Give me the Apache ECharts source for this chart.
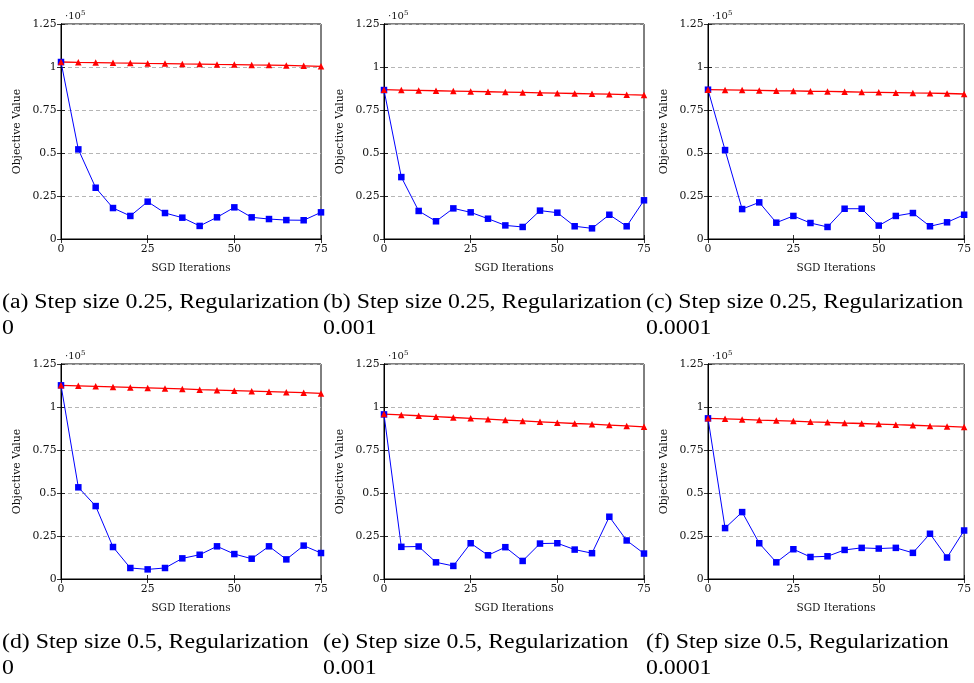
<!DOCTYPE html>
<html>
<head>
<meta charset="utf-8">
<script src="https://cdn.jsdelivr.net/npm/echarts@6/dist/echarts.min.js"></script>
<style>
html,body{margin:0;padding:0;background:#fff;}
#chart{width:974px;height:683px;}
</style>
</head>
<body>
<div id="chart"></div>
<script>
// SGD iterations (x values)
const iterations = [0, 5, 10, 15, 20, 25, 30, 35, 40, 45, 50, 55, 60, 65, 70, 75];
// Objective values in units of 1e5
// (blue squares series)
const blueA = [1.029, 0.521, 0.298, 0.180, 0.134, 0.217, 0.151, 0.124, 0.076, 0.126, 0.184, 0.126, 0.116, 0.110, 0.109, 0.155];
const blueB = [0.866, 0.360, 0.163, 0.103, 0.178, 0.155, 0.118, 0.079, 0.070, 0.165, 0.153, 0.074, 0.062, 0.141, 0.074, 0.225];
const blueC = [0.868, 0.517, 0.174, 0.213, 0.095, 0.134, 0.093, 0.070, 0.176, 0.176, 0.078, 0.134, 0.151, 0.074, 0.097, 0.141];
const blueD = [1.126, 0.533, 0.424, 0.186, 0.064, 0.056, 0.064, 0.120, 0.141, 0.190, 0.145, 0.118, 0.190, 0.114, 0.194, 0.151];
const blueE = [0.957, 0.187, 0.189, 0.097, 0.076, 0.208, 0.138, 0.185, 0.105, 0.206, 0.208, 0.171, 0.150, 0.362, 0.224, 0.148];
const blueF = [0.934, 0.296, 0.389, 0.208, 0.097, 0.173, 0.128, 0.132, 0.169, 0.181, 0.177, 0.181, 0.152, 0.263, 0.125, 0.282];
// (red triangles series)
const redA = [1.029, 1.027, 1.026, 1.024, 1.023, 1.021, 1.020, 1.018, 1.017, 1.015, 1.014, 1.012, 1.011, 1.009, 1.007, 1.004];
const redB = [0.868, 0.866, 0.864, 0.862, 0.860, 0.858, 0.856, 0.854, 0.852, 0.850, 0.848, 0.846, 0.844, 0.842, 0.839, 0.837];
const redC = [0.868, 0.867, 0.866, 0.864, 0.862, 0.861, 0.859, 0.858, 0.856, 0.854, 0.853, 0.851, 0.849, 0.848, 0.846, 0.843];
const redD = [1.126, 1.123, 1.120, 1.117, 1.114, 1.111, 1.108, 1.105, 1.101, 1.098, 1.095, 1.092, 1.089, 1.086, 1.083, 1.079];
const redE = [0.959, 0.954, 0.949, 0.944, 0.939, 0.934, 0.929, 0.924, 0.919, 0.914, 0.909, 0.904, 0.900, 0.895, 0.890, 0.885];
const redF = [0.934, 0.931, 0.928, 0.924, 0.921, 0.918, 0.914, 0.911, 0.907, 0.904, 0.901, 0.897, 0.894, 0.890, 0.887, 0.883];

const captions = [
  '(a) Step size 0.25, Regularization\n0',
  '(b) Step size 0.25, Regularization\n0.001',
  '(c) Step size 0.25, Regularization\n0.0001',
  '(d) Step size 0.5, Regularization\n0',
  '(e) Step size 0.5, Regularization\n0.001',
  '(f) Step size 0.5, Regularization\n0.0001'
];
const yTicks = [0, 0.25, 0.5, 0.75, 1, 1.25];
const xTicks = [0, 25, 50, 75];
const xLabel = 'SGD Iterations';
const yLabel = 'Objective Value';

const blues = [blueA, blueB, blueC, blueD, blueE, blueF];
const reds = [redA, redB, redC, redD, redE, redF];

// layout
const lefts = [61, 384, 708];
const widths = [260, 260, 259];
const tops = [24, 364];
const plotH = 215;
const capLeft = [2, 323, 646];
const capTop = [290, 630];

const serif = 'DejaVu Serif';
const grids = [], xAxes = [], yAxes = [], series = [], graphics = [];

for (let g = 0; g < 6; g++) {
  const col = g % 3, row = Math.floor(g / 3);
  grids.push({left: lefts[col], top: tops[row], width: widths[col], height: plotH,
    show: true, borderColor: '#000', borderWidth: 1, backgroundColor: 'transparent'});
  const tickStyle = {show: true, inside: true, length: 4, lineStyle: {color: '#000', width: 0.8}};
  xAxes.push({
    type: 'value', gridIndex: g, min: 0, max: 75, interval: 25, position: 'bottom',
    axisLine: {show: true, lineStyle: {color: '#000', width: 1}},
    axisTick: tickStyle,
    axisLabel: {color: '#111', fontFamily: serif, fontSize: 10.8, margin: 5,
      formatter: v => xTicks.includes(v) ? String(v) : ''},
    splitLine: {show: false},
    name: xLabel, nameLocation: 'middle', nameGap: 24,
    nameTextStyle: {color: '#111', fontFamily: serif, fontSize: 10.5}
  });
  xAxes.push({
    type: 'value', gridIndex: g, min: 0, max: 75, interval: 25, position: 'top',
    axisLine: {show: true, lineStyle: {color: '#000', width: 1}},
    axisTick: tickStyle, axisLabel: {show: false}, splitLine: {show: false}
  });
  yAxes.push({
    type: 'value', gridIndex: g, min: 0, max: 1.25, interval: 0.25, position: 'left',
    axisLine: {show: true, lineStyle: {color: '#000', width: 1}},
    axisTick: tickStyle,
    axisLabel: {color: '#111', fontFamily: serif, fontSize: 10.8, margin: 4.5,
      formatter: v => String(yTicks.find(t => Math.abs(t - v) < 1e-9) ?? '')},
    splitLine: {show: true, lineStyle: {color: '#b5b5b5', type: [4, 3], width: 1}},
    name: '{a|·10}{b|5}', nameLocation: 'end', nameGap: 4.5,
    nameTextStyle: {align: 'left', padding: [0, 0, 0, 4],
      rich: {a: {fontFamily: serif, fontSize: 10, color: '#111', lineHeight: 10, padding: [4, 0, 0, 0]},
             b: {fontFamily: serif, fontSize: 7, color: '#111', verticalAlign: 'top', lineHeight: 7}}}
  });
  yAxes.push({
    type: 'value', gridIndex: g, min: 0, max: 1.25, interval: 0.25, position: 'right',
    axisLine: {show: true, lineStyle: {color: '#000', width: 1}},
    axisTick: tickStyle, axisLabel: {show: false}, splitLine: {show: false}
  });
  graphics.push({
    type: 'text', x: lefts[col] - 44, y: tops[row] + plotH / 2, rotation: Math.PI / 2,
    style: {text: yLabel, font: '10.8px "DejaVu Serif"', fill: '#111', align: 'center', verticalAlign: 'middle'}
  });
  graphics.push({
    type: 'text', x: capLeft[col], y: capTop[row], scaleX: 1.19,
    style: {text: captions[g], font: '20px "Liberation Serif"', fill: '#000', lineHeight: 25.5,
      align: 'left', verticalAlign: 'top'}
  });
  series.push({
    type: 'line', xAxisIndex: 2 * g, yAxisIndex: 2 * g,
    data: iterations.map((x, i) => [x, blues[g][i]]),
    symbol: 'rect', symbolSize: 6.5, clip: false,
    lineStyle: {color: '#0000ff', width: 1}, itemStyle: {color: '#0000ff'},
    emphasis: {disabled: true}, animation: false
  });
  series.push({
    type: 'line', xAxisIndex: 2 * g, yAxisIndex: 2 * g,
    data: iterations.map((x, i) => [x, reds[g][i]]),
    symbol: 'triangle', symbolSize: 6.5, clip: false,
    lineStyle: {color: '#ff0000', width: 1.3}, itemStyle: {color: '#ff0000'},
    emphasis: {disabled: true}, animation: false
  });
}

const chart = echarts.init(document.getElementById('chart'), null, {renderer: 'canvas'});
chart.setOption({
  animation: false,
  backgroundColor: '#fff',
  grid: grids, xAxis: xAxes, yAxis: yAxes, series: series,
  graphic: graphics
});
</script>
</body>
</html>
